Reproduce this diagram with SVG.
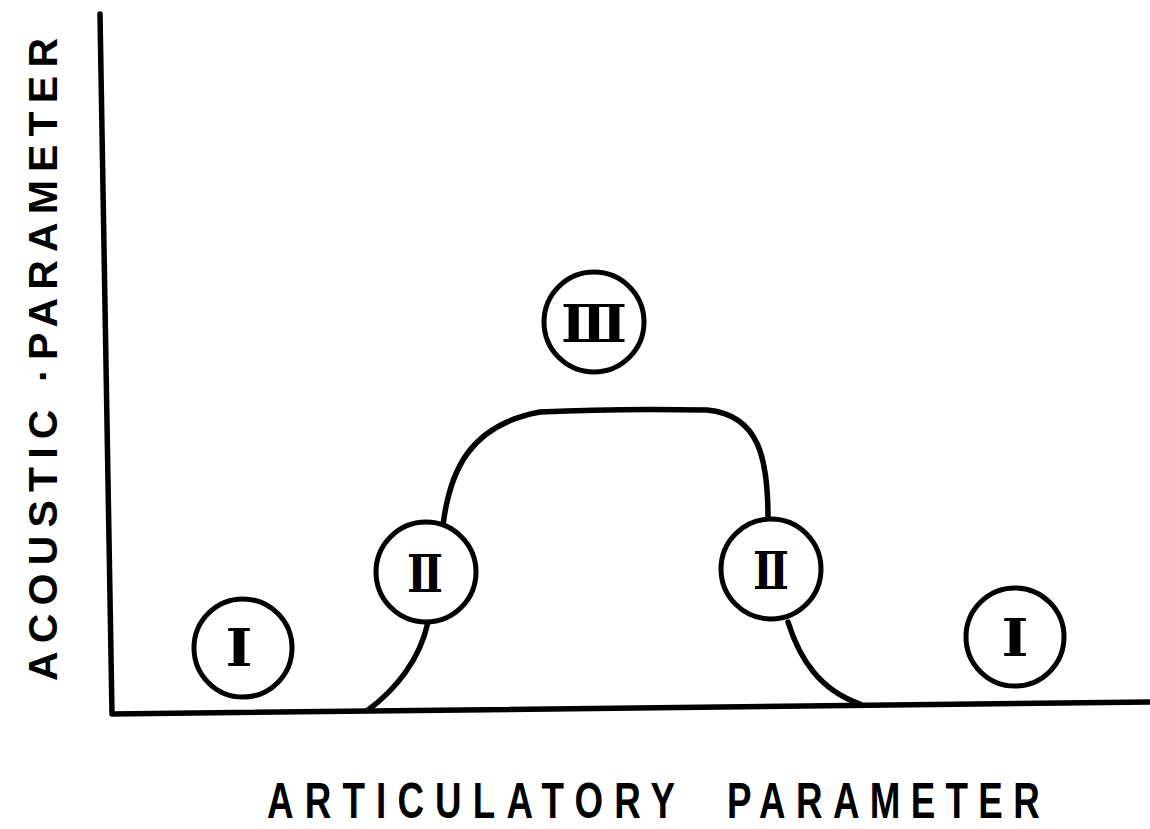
<svg xmlns="http://www.w3.org/2000/svg" width="1150" height="829" viewBox="0 0 1150 829">
  <style>
    .ln { fill: none; stroke: #000; stroke-width: 5.5; stroke-linecap: round; stroke-linejoin: round; }
    .ring { fill: #fff; stroke: #000; stroke-width: 5; }
    .num { font-family: "DejaVu Serif", "Liberation Serif", serif; font-weight: bold; font-size: 53px; fill: #000; text-anchor: middle; }
    .lab { font-family: "Liberation Sans", "DejaVu Sans", sans-serif; font-weight: bold; fill: #000; }
  </style>
  <rect width="1150" height="829" fill="#fff"/>

  <!-- axes -->
  <g id="axes">
    <path class="ln" d="M100 14 L112 714 L1150 702"/>
  </g>

  <!-- response curve -->
  <g id="connectors">
    <path class="ln" d="M368 710 C395 690 420 660 428 622"/>
    <path class="ln" d="M443 525 C450 470 470 425 540 412 C600 409 660 409 707 410 C760 415 768 460 768 518"/>
    <path class="ln" d="M788 622 C800 660 820 690 860 704"/>
  </g>

  <!-- region markers -->
  <g id="region-1-left">
    <circle class="ring" cx="243" cy="648" r="49"/>
    <text class="num" x="239" y="666" textLength="27" lengthAdjust="spacingAndGlyphs">Ⅰ</text>
  </g>
  <g id="region-2-left">
    <circle class="ring" cx="426" cy="572" r="50"/>
    <text class="num" x="425" y="592" textLength="36" lengthAdjust="spacingAndGlyphs">Ⅱ</text>
  </g>
  <g id="region-3">
    <circle class="ring" cx="594" cy="322" r="50"/>
    <text class="num" x="594" y="342" textLength="66" lengthAdjust="spacingAndGlyphs">Ⅲ</text>
  </g>
  <g id="region-2-right">
    <circle class="ring" cx="771" cy="569" r="50"/>
    <text class="num" x="771" y="589" textLength="36" lengthAdjust="spacingAndGlyphs">Ⅱ</text>
  </g>
  <g id="region-1-right">
    <circle class="ring" cx="1015" cy="637" r="49"/>
    <text class="num" x="1015" y="656" textLength="27" lengthAdjust="spacingAndGlyphs">Ⅰ</text>
  </g>

  <!-- axis titles -->
  <g id="y-title">
    <text class="lab" font-size="41" transform="translate(57 681) rotate(-90)" textLength="643" lengthAdjust="spacing">ACOUSTIC ·PARAMETER</text>
  </g>
  <g id="x-title">
    <text class="lab" font-size="49" transform="translate(267 818) scale(0.75 1)" textLength="544" lengthAdjust="spacing">ARTICULATORY</text>
    <text class="lab" font-size="49" transform="translate(727 818) scale(0.75 1)" textLength="417" lengthAdjust="spacing">PARAMETER</text>
  </g>
</svg>
